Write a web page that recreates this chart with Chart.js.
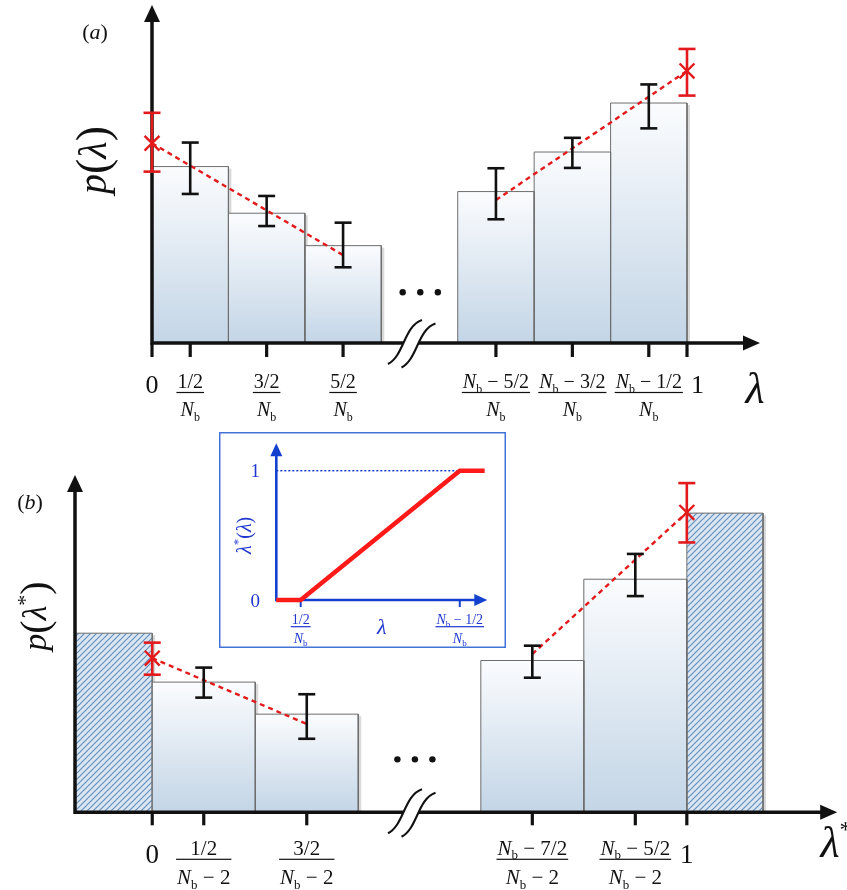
<!DOCTYPE html>
<html>
<head>
<meta charset="utf-8">
<script src="https://cdn.jsdelivr.net/npm/chart.js@4.4.1/dist/chart.umd.min.js"></script>
<style>
html, body { margin: 0; padding: 0; background: #fff; }
#wrap { position: relative; width: 847px; height: 890px; overflow: hidden; background: #fff; }
canvas { position: absolute; }
#cA { left: 0; top: 0; }
#cB { left: 0; top: 430px; }
#cI { left: 219px; top: 432px; background: #fff; }
</style>
</head>
<body>
<div id="wrap">
  <canvas id="cA" width="847" height="430"></canvas>
  <canvas id="cB" width="847" height="460"></canvas>
  <canvas id="cI" width="287" height="216"></canvas>
</div>
<script>
// ---------- panel (a): p(lambda), x in bin units
var aBins    = [[0, 1], [1, 2], [2, 3], [4, 5], [5, 6], [6, 7]];
var aHeight  = [52.2, 38.4, 28.8, 44.8, 56.5, 71.0];
var aErrX    = [0.5, 1.5, 2.5, 4.5, 5.5, 6.5];
var aErrLo   = [44.1, 34.6, 22.4, 36.6, 51.8, 63.5];
var aErrHi   = [59.3, 43.5, 35.6, 51.7, 60.7, 76.5];
var aEndX    = [0, 7];
var aEndY    = [59.1, 80.5];
var aEndLo   = [50.7, 73.2];
var aEndHi   = [68.1, 87.0];
var aFitX    = [[0, 2.5], [4.5, 7]];
var aFitY    = [[59.1, 26.0], [42.3, 80.5]];
var aDotsX   = [3.28, 3.51, 3.74];
var aDotsY   = [15, 15, 15];
var aTicks   = [0, 0.5, 1.5, 2.5, 4.5, 5.5, 6.5, 7];
var aTickNum = ['0', '1/2', '3/2', '5/2', 'N_b − 5/2', 'N_b − 3/2', 'N_b − 1/2', '1'];
var aTickDen = ['', 'N_b', 'N_b', 'N_b', 'N_b', 'N_b', 'N_b', ''];

// ---------- panel (b): p(lambda*)
var bBins    = [[0, 1], [1, 2], [3.19, 4.19], [4.19, 5.19]];
var bHeight  = [38.6, 29.1, 45.0, 69.1];
var bOutBins = [[-0.75, 0], [5.19, 5.93]];
var bOutH    = [53.1, 88.7];
var bErrX    = [0.5, 1.5, 3.69, 4.69];
var bErrLo   = [34.0, 21.8, 39.9, 64.1];
var bErrHi   = [42.9, 35.0, 49.4, 76.6];
var bEndX    = [0, 5.19];
var bEndY    = [45.7, 88.9];
var bEndLo   = [40.8, 80.0];
var bEndHi   = [50.3, 97.6];
var bFitX    = [[0, 1.5], [3.69, 5.19]];
var bFitY    = [[45.7, 26.2], [46.9, 88.9]];
var bDotsX   = [2.38, 2.55, 2.72];
var bDotsY   = [15.7, 15.7, 15.7];
var bTicks   = [0, 0.5, 1.5, 3.69, 4.69, 5.19];
var bTickNum = ['0', '1/2', '3/2', 'N_b − 7/2', 'N_b − 5/2', '1'];
var bTickDen = ['', 'N_b − 2', 'N_b − 2', 'N_b − 2', 'N_b − 2', ''];

// ---------- inset: lambda*(lambda), x in units of lambda*Nb
var iLam     = [0, 0.5, 3.76, 4.27];
var iMap     = [0, 0, 1, 1];
var iTicks   = [0.5, 3.76];
var iTickNum = ['1/2', 'N_b − 1/2'];
var iTickDen = ['N_b', 'N_b'];
var iYTicks  = [0, 1];
var iYLabels = ['0', '1'];

var SERIF = '"Liberation Serif","Times New Roman",serif';
var INK = '#111111', RED = '#e31a1c', BLUE = '#1440d0', BLUE_TXT = '#2138cf', BOX = '#4272d8';

// ---------- text helpers
function rich(str, size) {
  var out = [];
  str.split(/(N_b)/).forEach(function (p) {
    if (!p) return;
    if (p === 'N_b') {
      out.push({ t: 'N', f: 'italic ' + size + 'px ' + SERIF });
      out.push({ t: 'b', f: Math.round(size * 0.62) + 'px ' + SERIF, dy: size * 0.22 });
    } else out.push({ t: p, f: size + 'px ' + SERIF });
  });
  return out;
}
function richW(ctx, s) {
  var w = 0;
  s.forEach(function (g) { ctx.font = g.f; w += ctx.measureText(g.t).width; });
  return w;
}
function drawRich(ctx, s, cx, base) {
  var w = richW(ctx, s), x = cx - w / 2;
  s.forEach(function (g) { ctx.font = g.f; ctx.fillText(g.t, x, base + (g.dy || 0)); x += ctx.measureText(g.t).width; });
  return w;
}
function drawFrac(ctx, cx, barY, num, den, size) {
  var wn = drawRich(ctx, rich(num, size), cx, barY - size * 0.22);
  var wd = drawRich(ctx, rich(den, size), cx, barY + size * 1.18);
  var w = Math.max(wn, wd) + 2;
  ctx.fillRect(cx - w / 2, barY - 0.6, w, 1.2);
  return w;
}
function rotated(ctx, s, x, y) {
  ctx.save(); ctx.translate(x, y); ctx.rotate(-Math.PI / 2);
  drawRich(ctx, s, 0, 0); ctx.restore();
}

// ---------- fills
function gradFill(c) {
  var chart = c.chart, ys = chart.scales.y;
  if (!ys || !chart.chartArea) return '#dde8f2';
  var h = Math.max.apply(null, c.dataset.data.map(function (p) { return p.y; }));
  var g = chart.ctx.createLinearGradient(0, ys.getPixelForValue(h), 0, ys.getPixelForValue(0));
  g.addColorStop(0, '#fbfcfe');
  g.addColorStop(1, '#c3d5e6');
  return g;
}
var tile = document.createElement('canvas');
tile.width = 6; tile.height = 6;
(function () {
  var g = tile.getContext('2d');
  g.fillStyle = '#dae6f1'; g.fillRect(0, 0, 6, 6);
  g.strokeStyle = '#6690bd'; g.lineWidth = 1.2;
  g.beginPath();
  g.moveTo(-1, 7); g.lineTo(7, -1);
  g.moveTo(-1, 1); g.lineTo(1, -1);
  g.moveTo(5, 7); g.lineTo(7, 5);
  g.stroke();
})();
function hatchFill(c) { return c.chart.ctx.createPattern(tile, 'repeat'); }

// ---------- dataset builders
function barSet(b, h, fill) {
  return { kind: 'bar', data: [{ x: b[0], y: 0 }, { x: b[0], y: h }, { x: b[1], y: h }, { x: b[1], y: 0 }],
    borderColor: '#6e6e6e', borderWidth: 1, backgroundColor: fill, fill: 'origin', pointRadius: 0, clip: false };
}
function errSet(x, lo, hi, col) {
  return { data: [{ x: x, y: lo }, { x: x, y: hi }], borderColor: col, borderWidth: 2.6, fill: false,
    pointStyle: 'line', pointRadius: 8.5, pointBorderColor: col, pointBorderWidth: 2.6, clip: false };
}
function crossSet(x, y) {
  return { data: [{ x: x, y: y }], showLine: false, pointStyle: 'crossRot', pointRadius: 10.5,
    pointBorderColor: RED, pointBorderWidth: 2.4, clip: false };
}
function fitSet(xs, ys) {
  return { data: xs.map(function (x, i) { return { x: x, y: ys[i] }; }), borderColor: RED, borderWidth: 2.4,
    borderDash: [5, 4], pointRadius: 0, fill: false, clip: false };
}
function dotSet(xs, ys) {
  return { data: xs.map(function (x, i) { return { x: x, y: ys[i] }; }), showLine: false, pointStyle: 'circle',
    pointRadius: 3.2, pointBackgroundColor: INK, pointBorderWidth: 0, clip: false };
}
function panelSets(p) {
  var ds = [];
  p.endX.forEach(function (x, i) { ds.push(crossSet(x, p.endY[i])); });
  p.endX.forEach(function (x, i) { ds.push(errSet(x, p.endLo[i], p.endHi[i], RED)); });
  p.errX.forEach(function (x, i) { ds.push(errSet(x, p.errLo[i], p.errHi[i], INK)); });
  p.fitX.forEach(function (xs, i) { ds.push(fitSet(xs, p.fitY[i])); });
  ds.push(dotSet(p.dotsX, p.dotsY));
  p.bins.forEach(function (b, i) { ds.push(barSet(b, p.heights[i], gradFill)); });
  p.outBins.forEach(function (b, i) { ds.push(barSet(b, p.outH[i], hatchFill)); });
  return ds;
}

// ---------- axes, ticks, axis break
function breakPath(ctx, bx, cy, sx, sy, rev) {
  var P = [[-17, 21], [-1, 13], [-1, -17], [17, -23]].map(function (q) { return [bx + q[0] + sx, cy + q[1] + sy]; });
  if (rev) P.reverse();
  return P;
}
function drawAxes(chart, c) {
  var ctx = chart.ctx, xs = chart.scales.x, ys = chart.scales.y;
  var x0 = xs.getPixelForValue(c.axisAt), y0 = ys.getPixelForValue(0);
  var xTip = xs.getPixelForValue(xs.max), yTip = ys.getPixelForValue(ys.max);
  ctx.save();
  ctx.strokeStyle = INK; ctx.fillStyle = INK; ctx.lineWidth = 3.5;
  ctx.beginPath();
  ctx.moveTo(x0, y0 + 1.75); ctx.lineTo(x0, yTip + 14);
  ctx.moveTo(x0 - 1.75, y0); ctx.lineTo(xTip - 14, y0);
  ctx.stroke();
  ctx.beginPath(); ctx.moveTo(x0, yTip); ctx.lineTo(x0 - 8, yTip + 17); ctx.lineTo(x0 + 8, yTip + 17); ctx.closePath(); ctx.fill();
  ctx.beginPath(); ctx.moveTo(xTip, y0); ctx.lineTo(xTip - 17, y0 - 7.5); ctx.lineTo(xTip - 17, y0 + 7.5); ctx.closePath(); ctx.fill();
  ctx.lineWidth = 3.2;
  c.ticks.forEach(function (t) {
    var px = xs.getPixelForValue(t);
    ctx.beginPath(); ctx.moveTo(px, y0); ctx.lineTo(px, y0 + c.tickLen); ctx.stroke();
  });
  // broken axis mark
  var bx = xs.getPixelForValue(c.breakAt);
  var A = breakPath(ctx, bx, y0, 0, 0, false), B = breakPath(ctx, bx, y0, 13.5, 3.5, true);
  ctx.fillStyle = '#fff';
  ctx.beginPath(); ctx.moveTo(A[0][0], A[0][1]); ctx.bezierCurveTo(A[1][0], A[1][1], A[2][0], A[2][1], A[3][0], A[3][1]);
  ctx.lineTo(B[0][0], B[0][1]); ctx.bezierCurveTo(B[1][0], B[1][1], B[2][0], B[2][1], B[3][0], B[3][1]); ctx.closePath(); ctx.fill();
  ctx.lineWidth = 2.1;
  [A, B].forEach(function (P) {
    ctx.beginPath(); ctx.moveTo(P[0][0], P[0][1]); ctx.bezierCurveTo(P[1][0], P[1][1], P[2][0], P[2][1], P[3][0], P[3][1]); ctx.stroke();
  });
  ctx.restore();
}
function drawTickLabels(chart, c) {
  var ctx = chart.ctx, xs = chart.scales.x, y0 = chart.scales.y.getPixelForValue(0);
  var prevRight = -1e9;
  ctx.save(); ctx.fillStyle = INK; ctx.textBaseline = 'alphabetic'; ctx.textAlign = 'left';
  c.ticks.forEach(function (t, i) {
    var px = xs.getPixelForValue(t);
    if (c.tickDen[i]) {
      var w = drawFrac(ctx, px, y0 + c.fracDy, c.tickNum[i], c.tickDen[i], c.fracSize);
      prevRight = px + w / 2;
    } else {
      ctx.font = c.numSize + 'px ' + SERIF;
      var wn = ctx.measureText(c.tickNum[i]).width, cx = px;
      if (cx - wn / 2 < prevRight + 8) cx = prevRight + 8 + wn / 2;
      ctx.fillText(c.tickNum[i], cx - wn / 2, y0 + c.numDy);
      prevRight = cx + wn / 2;
    }
  });
  ctx.restore();
}
function panelDeco(c) {
  return {
    id: 'deco',
    beforeDatasetsDraw: function (chart) {
      chart.$axes = false;
      var ctx = chart.ctx, xs = chart.scales.x, ys = chart.scales.y;
      ctx.save(); ctx.fillStyle = 'rgba(0,0,0,0.15)';
      chart.data.datasets.forEach(function (d) {
        if (d.kind !== 'bar') return;
        var x1 = xs.getPixelForValue(d.data[2].x), top = ys.getPixelForValue(d.data[1].y), bot = ys.getPixelForValue(0);
        ctx.fillRect(x1, top + 2, 3, bot - top - 2);
      });
      ctx.restore();
    },
    beforeDatasetDraw: function (chart, args) {
      if (chart.$axes || chart.data.datasets[args.index].kind === 'bar') return;
      chart.$axes = true;
      drawAxes(chart, c);
    },
    afterDraw: function (chart) {
      drawTickLabels(chart, c);
      var ctx = chart.ctx;
      ctx.save(); ctx.fillStyle = INK; ctx.textBaseline = 'alphabetic';
      c.extra(ctx, chart);
      ctx.restore();
    }
  };
}
function makeChart(id, datasets, x, y, pad, deco) {
  return new Chart(document.getElementById(id), {
    type: 'line',
    data: { datasets: datasets },
    options: {
      responsive: false, animation: false, events: [],
      layout: { padding: pad, autoPadding: false },
      plugins: { legend: { display: false }, tooltip: { enabled: false } },
      elements: { line: { tension: 0 } },
      scales: {
        x: { type: 'linear', display: false, min: x[0], max: x[1] },
        y: { type: 'linear', display: false, min: y[0], max: y[1] }
      }
    },
    plugins: [deco]
  });
}

// ---------- panel (a)
makeChart('cA', panelSets({
  bins: aBins, heights: aHeight, outBins: [], outH: [], errX: aErrX, errLo: aErrLo, errHi: aErrHi,
  endX: aEndX, endY: aEndY, endLo: aEndLo, endHi: aEndHi, fitX: aFitX, fitY: aFitY, dotsX: aDotsX, dotsY: aDotsY
}), [0, 7.955], [0, 100], { left: 152, right: 87, top: 5, bottom: 87 }, panelDeco({
  axisAt: 0, ticks: aTicks, tickNum: aTickNum, tickDen: aTickDen, breakAt: 3.31,
  tickLen: 14, numSize: 26, fracSize: 20, fracDy: 49.5, numDy: 50,
  extra: function (ctx) {
    drawRich(ctx, [{ t: 'λ', f: 'italic 44px ' + SERIF }], 755, 403);
    rotated(ctx, [{ t: 'p', f: 'italic 40px ' + SERIF }, { t: '(', f: '46px ' + SERIF, dy: 2 },
      { t: 'λ', f: 'italic 40px ' + SERIF }, { t: ')', f: '46px ' + SERIF, dy: 2 }], 106, 160);
    drawRich(ctx, [{ t: '(', f: '22px ' + SERIF }, { t: 'a', f: 'italic 22px ' + SERIF }, { t: ')', f: '22px ' + SERIF }], 95, 39);
  }
}));

// ---------- panel (b)
makeChart('cB', panelSets({
  bins: bBins, heights: bHeight, outBins: bOutBins, outH: bOutH, errX: bErrX, errLo: bErrLo, errHi: bErrHi,
  endX: bEndX, endY: bEndY, endLo: bEndLo, endHi: bEndHi, fitX: bFitX, fitY: bFitY, dotsX: bDotsX, dotsY: bDotsY
}), [-0.75, 6.65], [0, 100], { left: 75, right: 9.8, top: 45, bottom: 77.7 }, panelDeco({
  axisAt: -0.75, ticks: bTicks, tickNum: bTickNum, tickDen: bTickDen, breakAt: 2.454,
  tickLen: 13, numSize: 27, fracSize: 21, fracDy: 47, numDy: 50.5,
  extra: function (ctx) {
    drawRich(ctx, [{ t: 'λ', f: 'italic 44px ' + SERIF }, { t: '*', f: '24px ' + SERIF, dy: -20 }], 836, 427);
    rotated(ctx, [{ t: 'p', f: 'italic 34px ' + SERIF }, { t: '(', f: '40px ' + SERIF, dy: 2 },
      { t: 'λ', f: 'italic 34px ' + SERIF }, { t: '*', f: '22px ' + SERIF, dy: -14 },
      { t: ')', f: '40px ' + SERIF, dy: 2 }], 46, 186);
    drawRich(ctx, [{ t: '(', f: '22px ' + SERIF }, { t: 'b', f: 'italic 22px ' + SERIF }, { t: ')', f: '22px ' + SERIF }], 30, 79);
  }
}));

// ---------- inset
var insetDeco = {
  id: 'insetDeco',
  beforeDatasetsDraw: function (chart) {
    var ctx = chart.ctx, xs = chart.scales.x, ys = chart.scales.y;
    var x0 = xs.getPixelForValue(0), y0 = ys.getPixelForValue(0);
    var xTip = xs.getPixelForValue(xs.max), yTip = ys.getPixelForValue(ys.max);
    ctx.save();
    ctx.strokeStyle = BOX; ctx.lineWidth = 1.5;
    ctx.strokeRect(0.75, 0.75, chart.width - 1.5, chart.height - 1.5);
    ctx.strokeStyle = BLUE; ctx.fillStyle = BLUE; ctx.lineWidth = 2.6;
    ctx.beginPath();
    ctx.moveTo(x0, y0 + 1.3); ctx.lineTo(x0, yTip + 11);
    ctx.moveTo(x0 - 1.3, y0); ctx.lineTo(xTip - 11, y0);
    ctx.stroke();
    ctx.beginPath(); ctx.moveTo(x0, yTip); ctx.lineTo(x0 - 6, yTip + 13); ctx.lineTo(x0 + 6, yTip + 13); ctx.closePath(); ctx.fill();
    ctx.beginPath(); ctx.moveTo(xTip, y0); ctx.lineTo(xTip - 13, y0 - 6); ctx.lineTo(xTip - 13, y0 + 6); ctx.closePath(); ctx.fill();
    ctx.lineWidth = 2;
    iTicks.forEach(function (t) {
      var px = xs.getPixelForValue(t);
      ctx.beginPath(); ctx.moveTo(px, y0); ctx.lineTo(px, y0 + 7); ctx.stroke();
    });
    ctx.restore();
  },
  afterDraw: function (chart) {
    var ctx = chart.ctx, xs = chart.scales.x, ys = chart.scales.y;
    var x0 = xs.getPixelForValue(0), y0 = ys.getPixelForValue(0);
    ctx.save(); ctx.fillStyle = BLUE_TXT; ctx.textBaseline = 'alphabetic';
    iYTicks.forEach(function (t, i) {
      drawRich(ctx, [{ t: iYLabels[i], f: '19px ' + SERIF }], x0 - 21, ys.getPixelForValue(t) + 6.5);
    });
    iTicks.forEach(function (t, i) {
      drawFrac(ctx, xs.getPixelForValue(t), y0 + 26.7, iTickNum[i], iTickDen[i], 14);
    });
    drawRich(ctx, [{ t: 'λ', f: 'italic 22px ' + SERIF }], xs.getPixelForValue((xs.min + xs.max) / 2), y0 + 34);
    rotated(ctx, [{ t: 'λ', f: 'italic 20px ' + SERIF }, { t: '*', f: '13px ' + SERIF, dy: -9 },
      { t: '(', f: '20px ' + SERIF }, { t: 'λ', f: 'italic 20px ' + SERIF }, { t: ')', f: '20px ' + SERIF }],
      32, ys.getPixelForValue(0.5));
    ctx.restore();
  }
};
new Chart(document.getElementById('cI'), {
  type: 'line',
  data: {
    datasets: [
      { data: iLam.map(function (x, i) { return { x: x, y: iMap[i] }; }), borderColor: '#ff1a1a', borderWidth: 4.5,
        pointRadius: 0, fill: false, clip: false, borderJoinStyle: 'miter' },
      { data: [{ x: 0, y: 1 }, { x: iLam[2], y: 1 }], borderColor: BLUE, borderWidth: 1.5, borderDash: [2, 2],
        pointRadius: 0, fill: false, clip: false }
    ]
  },
  options: {
    responsive: false, animation: false, events: [],
    layout: { padding: { left: 57.3, right: 18.7, top: 11.3, bottom: 48 }, autoPadding: false },
    plugins: { legend: { display: false }, tooltip: { enabled: false } },
    elements: { line: { tension: 0 } },
    scales: {
      x: { type: 'linear', display: false, min: 0, max: 4.324 },
      y: { type: 'linear', display: false, min: 0, max: 1.212 }
    }
  },
  plugins: [insetDeco]
});
</script>
</body>
</html>
